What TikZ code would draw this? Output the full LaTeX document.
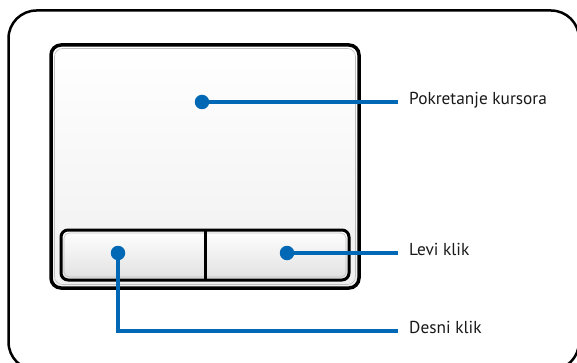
\documentclass[tikz,border=0pt]{standalone}
\usepackage{fontspec}
\setmainfont{PT Sans}
\definecolor{cblue}{HTML}{0068B4}
\begin{document}
\begin{tikzpicture}[x=1pt,y=-1pt,
  frame/.style={draw=black,line width=2.5pt,rounded corners=28pt},
  pad/.style={draw=black,line width=3.5pt,rounded corners=10pt,top color=white,bottom color=black!6},
  btn/.style={draw=black,line width=3pt,rounded corners=7pt,top color=white,middle color=white,bottom color=black!12},
  bevel/.style={draw=black!25,line width=0.6pt},
  dot/.style={circle,fill=cblue,minimum size=14.5pt,inner sep=0pt},
  conn/.style={draw=cblue,line width=3.5pt},
  lbl/.style={anchor=base west,inner xsep=11pt,inner ysep=0pt,font=\fontsize{17.3}{20}\selectfont,text=black!90}]
\useasboundingbox (0,0) rectangle (577,363);
% outer frame
\draw[frame] (8.5,10.5) rectangle (579,370);
% touchpad
\path[pad] (51,45) rectangle (359,288);
\draw[bevel,rounded corners=8pt] (54.5,48.5) rectangle (355.5,284.5);
% buttons
\path[btn] (61,230) rectangle (349,280);
\draw[bevel,rounded corners=5pt] (64,233) rectangle (346,277);
\draw[line width=3pt] (205,230) -- (205,280);
% dots
\node[dot] (dT) at (202,102) {};
\node[dot] (dL) at (118,253) {};
\node[dot] (dR) at (287,253) {};
% labels
\node[lbl] (tP) at (398,104.5) {Pokretanje kursora};
\node[lbl] (tL) at (398,255.5) {Levi klik};
\node[lbl] (tD) at (398,333.5) {Desni klik};
% connectors
\draw[conn] (dT.center) -- (dT.center -| tP.west);
\draw[conn] (dR.center) -- (dR.center -| tL.west);
\draw[conn] (dL.center) |- ([yshift=2.5pt]tD.base west);
\end{tikzpicture}
\end{document}
